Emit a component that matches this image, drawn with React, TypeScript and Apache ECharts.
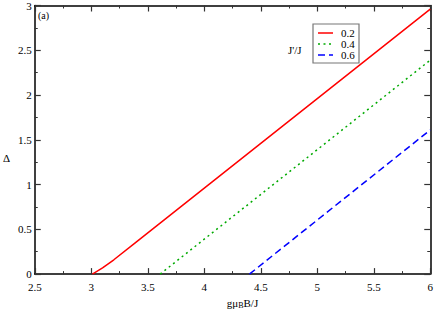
import React, { useEffect, useRef } from "react";
import * as echarts from "echarts";

const seriesNames = ["0.2", "0.4", "0.6"];
const seriesColors = ["#ff0000", "#00aa00", "#0000ff"];
const redData: [number, number][] = [
  [3.01, 0],
  [3.1, 0.07],
  [3.2, 0.16],
  [3.4, 0.36],
  [6, 2.96],
];
const greenData: [number, number][] = [
  [3.61, 0],
  [6, 2.39],
];
const blueData: [number, number][] = [
  [4.4, 0],
  [6, 1.61],
];
const xRange = [2.5, 6];
const yRange = [0, 3];

const FONT = "Liberation Serif";
const dashes: (number[] | "solid")[] = ["solid", [2, 3.5], [7, 4]];

export default function App() {
  const ref = useRef<HTMLDivElement>(null);
  useEffect(() => {
    if (!ref.current) return;
    const chart = echarts.init(ref.current, undefined, { renderer: "svg" });
    const axisCommon = {
      axisLine: { show: true, onZero: false, lineStyle: { color: "#000", width: 1.5 } },
      axisTick: { show: true, inside: true, length: 6, lineStyle: { color: "#333", width: 1.2 } },
      minorTick: { show: true, splitNumber: 2, length: 3, lineStyle: { color: "#333", width: 1 } },
      splitLine: { show: false },
    };
    const legendX = 313;
    const legendY = 24;
    const rowH = 11;
    const legendGraphics: any[] = [
      {
        type: "rect",
        shape: { x: legendX, y: legendY, width: 46, height: 39 },
        style: { fill: "#fff", stroke: "#777", lineWidth: 1.2 },
        z: 100,
      },
    ];
    seriesNames.forEach((n, i) => {
      const cy = legendY + 9 + i * rowH;
      legendGraphics.push({
        type: "line",
        shape: { x1: legendX + 5, y1: cy, x2: legendX + 20, y2: cy },
        style: {
          stroke: seriesColors[i],
          lineWidth: 1.5,
          lineDash: dashes[i] === "solid" ? null : dashes[i],
        },
        z: 101,
      });
      legendGraphics.push({
        type: "text",
        x: legendX + 28,
        y: cy,
        style: {
          text: n,
          fontSize: 11,
          fontFamily: FONT,
          fill: "#000",
          verticalAlign: "middle",
        },
        z: 101,
      });
    });
    chart.setOption({
      animation: false,
      backgroundColor: "#fff",
      textStyle: { fontFamily: FONT },
      grid: { left: 34.75, right: 4.5, top: 5.5, bottom: 30.7, containLabel: false },
      xAxis: [
        {
          type: "value",
          min: xRange[0],
          max: xRange[1],
          interval: 0.5,
          position: "bottom",
          ...axisCommon,
          axisLabel: { color: "#000", fontSize: 11, fontFamily: FONT, margin: 7 },
          name: "gμ{sub|B}B/J",
          nameLocation: "middle",
          nameGap: 16,
          nameTextStyle: {
            color: "#000",
            fontSize: 11,
            fontFamily: FONT,
            padding: [0, 0, 0, 20],
            rich: { sub: { fontSize: 8, fontFamily: FONT, padding: [5, 0, 0, 0] } },
          },
        },
        {
          type: "value",
          min: xRange[0],
          max: xRange[1],
          interval: 0.5,
          position: "top",
          ...axisCommon,
          axisLabel: { show: false },
        },
      ],
      yAxis: [
        {
          type: "value",
          min: yRange[0],
          max: yRange[1],
          interval: 0.5,
          position: "left",
          ...axisCommon,
          axisLabel: { color: "#000", fontSize: 11, fontFamily: FONT, margin: 3 },
        },
        {
          type: "value",
          min: yRange[0],
          max: yRange[1],
          interval: 0.5,
          position: "right",
          ...axisCommon,
          axisLabel: { show: false },
        },
      ],
      graphic: [
        {
          type: "text",
          left: 38,
          top: 10,
          style: { text: "(a)", fontSize: 10, fontFamily: FONT, fill: "#000" },
        },
        {
          type: "text",
          left: 3,
          top: 152,
          style: { text: "Δ", fontSize: 11, fontFamily: FONT, fill: "#000" },
        },
        {
          type: "text",
          left: 288,
          top: 44,
          style: { text: "J'/J", fontSize: 11, fontFamily: FONT, fill: "#000" },
        },
        ...legendGraphics,
      ],
      series: [
        {
          name: seriesNames[0],
          type: "line",
          data: redData,
          symbol: "none",
          color: seriesColors[0],
          lineStyle: { color: seriesColors[0], width: 1.5 },
        },
        {
          name: seriesNames[1],
          type: "line",
          data: greenData,
          symbol: "none",
          color: seriesColors[1],
          lineStyle: { color: seriesColors[1], width: 1.5, type: dashes[1] },
        },
        {
          name: seriesNames[2],
          type: "line",
          data: blueData,
          symbol: "none",
          color: seriesColors[2],
          lineStyle: { color: seriesColors[2], width: 1.5, type: dashes[2] },
        },
      ],
    });
    return () => chart.dispose();
  }, []);
  return (
    <div
      ref={ref}
      style={{ position: "fixed", left: 0, top: 0, width: 436, height: 314 }}
    />
  );
}
